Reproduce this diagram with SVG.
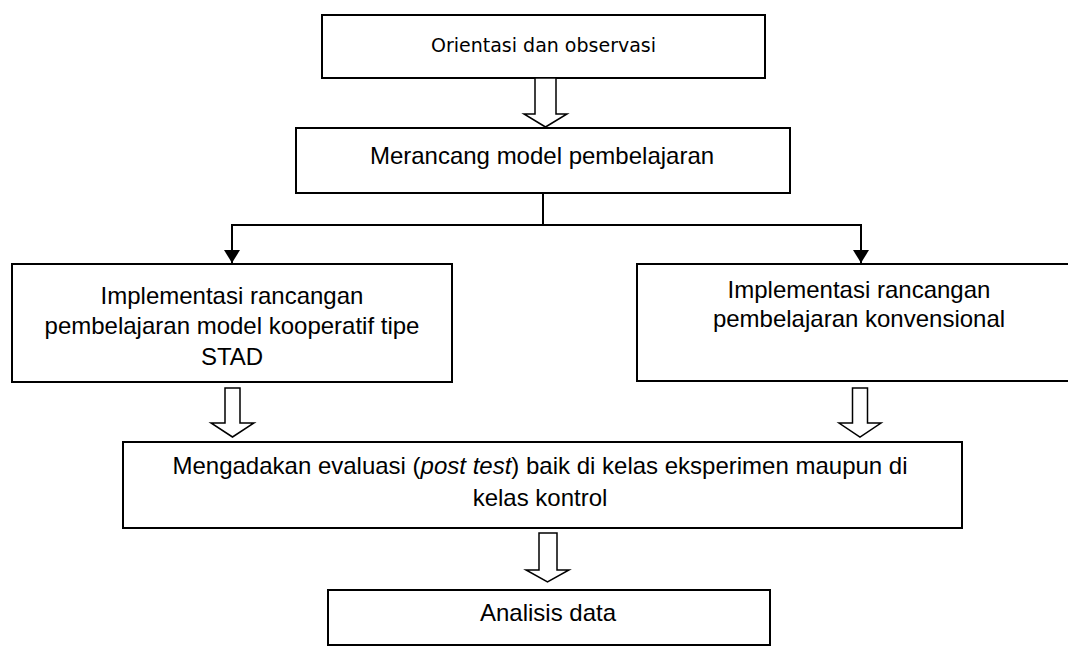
<svg xmlns="http://www.w3.org/2000/svg" width="1068" height="648" viewBox="0 0 1068 648">
<defs>
<style>
.box{fill:#fff;stroke:#000;stroke-width:2}
.blk{fill:#fff;stroke:#000;stroke-width:1.5;stroke-linejoin:miter}
.t{font-family:"Liberation Sans",Arial,sans-serif;font-size:24px;fill:#000;text-anchor:middle}
.d{font-family:"DejaVu Sans",Verdana,sans-serif;font-size:19px;fill:#000;text-anchor:middle}
.ln{fill:none;stroke:#000;stroke-width:2}
</style>
<marker id="ah" viewBox="0 0 13 16" refX="13" refY="8" markerWidth="13" markerHeight="16" markerUnits="userSpaceOnUse" orient="auto">
<path d="M0,0 L13,8 L0,16 Z" fill="#000"/>
</marker>
</defs>
<rect width="1068" height="648" fill="#fff"/>
<g id="n1">
<rect class="box" x="322" y="15" width="443" height="63"/>
<text class="d" x="543.5" y="52">Orientasi dan observasi</text>
</g>
<g id="n2">
<rect class="box" x="296" y="128" width="494" height="65"/>
<text class="t" x="542" y="164">Merancang model pembelajaran</text>
</g>
<g id="n3">
<rect class="box" x="12" y="264" width="440" height="118"/>
<text class="t" x="232" y="304">Implementasi rancangan</text>
<text class="t" x="232" y="334">pembelajaran model kooperatif tipe</text>
<text class="t" x="232" y="365">STAD</text>
</g>
<g id="n4">
<rect class="box" x="637" y="264" width="445" height="117"/>
<text class="t" x="859" y="298">Implementasi rancangan</text>
<text class="t" x="859" y="327">pembelajaran konvensional</text>
</g>
<g id="n5">
<rect class="box" x="123" y="442" width="839" height="86"/>
<text class="t" x="540" y="474">Mengadakan evaluasi (<tspan font-style="italic">post test</tspan>) baik di kelas eksperimen maupun di</text>
<text class="t" x="540" y="506">kelas kontrol</text>
</g>
<g id="n6">
<rect class="box" x="328" y="590" width="442" height="55"/>
<text class="t" x="548" y="621">Analisis data</text>
</g>
<g id="connectors">
<polygon class="blk" points="535,78 556,78 556,114 567,114 545.5,127 524,114 535,114"/>
<path class="ln" d="M543,193 V225 M231,225 H862"/>
<path class="ln" d="M232,225 V263" marker-end="url(#ah)"/>
<path class="ln" d="M861,225 V263" marker-end="url(#ah)"/>
<polygon class="blk" points="225,388 240,388 240,423 254,423 232.5,437 211,423 225,423"/>
<polygon class="blk" points="852.5,388 867.5,388 867.5,423 881,423 860,437 839,423 852.5,423"/>
<polygon class="blk" points="539,533 557,533 557,570 569,570 547.5,582 526,570 539,570"/>
</g>
</svg>
